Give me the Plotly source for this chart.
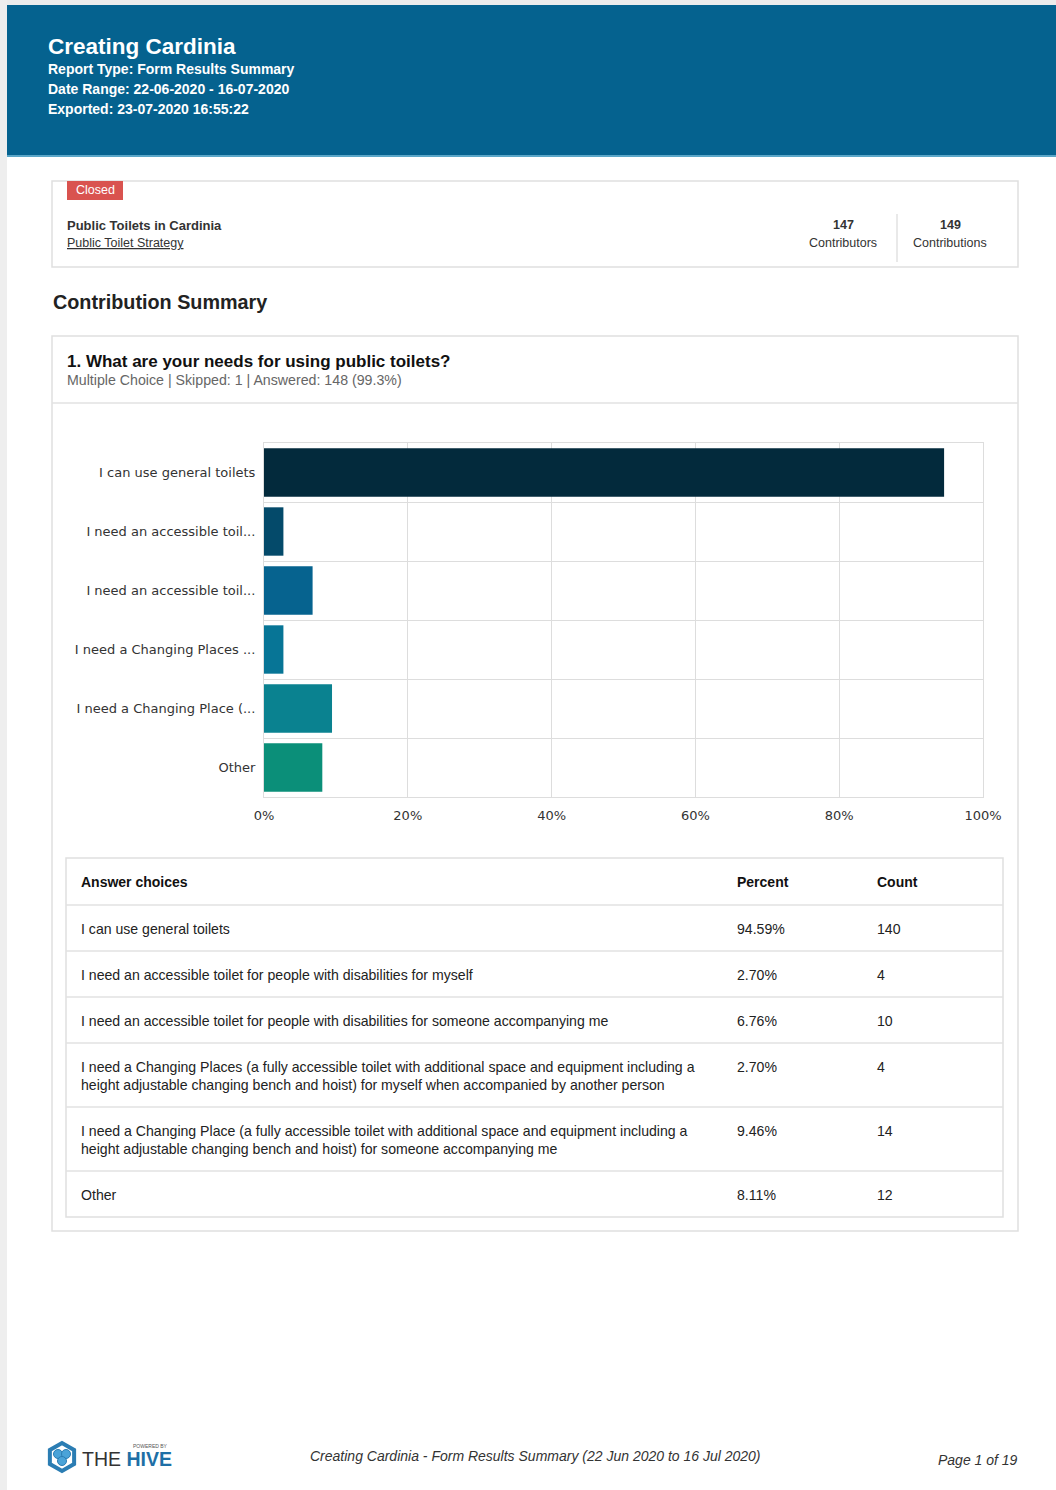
import math
import textwrap
import plotly.graph_objects as go

W, H = 1056, 1490

# ---------------- data ----------------
answers = [
    "I can use general toilets",
    "I need an accessible toilet for people with disabilities for myself",
    "I need an accessible toilet for people with disabilities for someone accompanying me",
    "I need a Changing Places (a fully accessible toilet with additional space and equipment including a height adjustable changing bench and hoist) for myself when accompanied by another person",
    "I need a Changing Place (a fully accessible toilet with additional space and equipment including a height adjustable changing bench and hoist) for someone accompanying me",
    "Other",
]
short_labels = [
    "I can use general toilets",
    "I need an accessible toil...",
    "I need an accessible toil...",
    "I need a Changing Places ...",
    "I need a Changing Place (...",
    "Other",
]
percents = [94.59, 2.70, 6.76, 2.70, 9.46, 8.11]
counts = [140, 4, 10, 4, 14, 12]
bar_colors = ["#032a3c", "#044a6a", "#06638f", "#077596", "#0a8290", "#0b8f79"]
x_ticks = [0, 20, 40, 60, 80, 100]
x_tick_labels = ["0%", "20%", "40%", "60%", "80%", "100%"]

header_lines = [
    "Report Type: Form Results Summary",
    "Date Range: 22-06-2020 - 16-07-2020",
    "Exported: 23-07-2020 16:55:22",
]


def X(px):
    return px / W


def Y(py):
    return 1 - py / H


ARIAL = "Liberation Sans, Arial, sans-serif"
CHART_FONT = "DejaVu Sans, Verdana, sans-serif"

fig = go.Figure()
fig.add_trace(go.Bar(
    x=percents,
    y=answers,
    orientation="h",
    marker=dict(color=bar_colors, line=dict(width=0)),
    hoverinfo="skip",
    showlegend=False,
))

shapes = []
annotations = []


def rect(x0, y0, x1, y1, fill="rgba(0,0,0,0)", line="rgba(0,0,0,0)", lw=0, layer="below"):
    shapes.append(dict(type="rect", xref="paper", yref="paper",
                       x0=X(x0), x1=X(x1), y0=Y(y0), y1=Y(y1),
                       fillcolor=fill, line=dict(color=line, width=lw), layer=layer))


def hline(x0, x1, y, color="#e2e2e2", lw=1.5):
    shapes.append(dict(type="line", xref="paper", yref="paper",
                       x0=X(x0), x1=X(x1), y0=Y(y), y1=Y(y),
                       line=dict(color=color, width=lw), layer="below"))


def vline(x, y0, y1, color="#e2e2e2", lw=1.5):
    shapes.append(dict(type="line", xref="paper", yref="paper",
                       x0=X(x), x1=X(x), y0=Y(y0), y1=Y(y1),
                       line=dict(color=color, width=lw), layer="below"))


def text(x, y, s, size=13, color="#333333", anchor="left", yanchor="middle", family=ARIAL):
    # compensate for the small internal padding of annotations
    if anchor == "left":
        x -= 2
    elif anchor == "right":
        x += 2
    annotations.append(dict(x=X(x), y=Y(y), xref="paper", yref="paper", text=s,
                            showarrow=False, xanchor=anchor, yanchor=yanchor,
                            align=anchor if anchor != "center" else "center",
                            font=dict(size=size, color=color, family=family)))


# page edges
rect(0, 0, W, 5, fill="#ececec")
rect(0, 0, 7, H, fill="#eeeeee")

# header band
rect(7, 5, W, 155, fill="#05628f")
rect(7, 155, W, 157, fill="#5aa6c8")
text(48, 46, "<b>Creating Cardinia</b>", size=22.5, color="white")
for i, s in enumerate(header_lines):
    text(48, 69 + 20 * i, "<b>" + s + "</b>", size=14, color="white")

# project card
rect(52, 181, 1018, 267, fill="white", line="#e0e0e0", lw=1.5)
rect(67, 181, 123, 200, fill="#d9534f")
text(95, 190.5, "Closed", size=12.5, color="white", anchor="center")
text(67, 225, "<b>Public Toilets in Cardinia</b>", size=13)
text(67, 243, "<u>Public Toilet Strategy</u>", size=12.5)
text(843, 225, "<b>147</b>", size=12.5, anchor="center")
text(843, 243, "Contributors", size=12.5, anchor="center")
vline(897, 214, 262)
text(950, 225, "<b>149</b>", size=12.5, anchor="center")
text(950, 243, "Contributions", size=12.5, anchor="center")

text(53, 302, "<b>Contribution Summary</b>", size=19.8, color="#222222")

# question card
rect(52, 336, 1018, 1231, fill="white", line="#e0e0e0", lw=1.5)
hline(52, 1018, 403)
text(67, 362, "<b>1. What are your needs for using public toilets?</b>", size=17, color="#111111")
text(67, 380, "Multiple Choice | Skipped: 1 | Answered: 148 (99.3%)", size=14.2, color="#666666")

# table
tbl_left, tbl_right = 66, 1003
col_pct, col_cnt = 737, 877
top = 858
rect(tbl_left, top, tbl_right, 1217, fill="rgba(0,0,0,0)", line="#e0e0e0", lw=1.5)
text(81, top + 24, "<b>Answer choices</b>", size=14, color="#111111")
text(col_pct, top + 24, "<b>Percent</b>", size=14, color="#111111")
text(col_cnt, top + 24, "<b>Count</b>", size=14, color="#111111")
top = 905
for ans, p, c in zip(answers, percents, counts):
    hline(tbl_left, tbl_right, top)
    lines = textwrap.wrap(ans, width=100)
    h = 46 if len(lines) == 1 else 64
    text(81, top + 14, "<br>".join(lines), size=14.1, color="#222222", yanchor="top")
    text(col_pct, top + 14, f"{p:.2f}%", size=14.1, color="#222222", yanchor="top")
    text(col_cnt, top + 14, str(c), size=14.1, color="#222222", yanchor="top")
    top += h

# footer logo: hexagon icon
cx, cy, r = 62, 1457, 14
pts = []
for k in range(6):
    a = math.radians(60 * k + 30)
    pts.append((X(cx + r * math.cos(a)), Y(cy + r * math.sin(a))))
path = "M " + " L ".join(f"{px:.5f},{py:.5f}" for px, py in pts) + " Z"
shapes.append(dict(type="path", xref="paper", yref="paper", path=path,
                   fillcolor="white", line=dict(color="#2b7db3", width=4), layer="above"))
for dx, dy, rr in [(-4, -3, 4.5), (4, -3, 4.5), (0, 4, 4.5)]:
    shapes.append(dict(type="circle", xref="paper", yref="paper",
                       x0=X(cx + dx - rr), x1=X(cx + dx + rr), y0=Y(cy + dy - rr), y1=Y(cy + dy + rr),
                       fillcolor="#4aa3d8", line=dict(color="#2b7db3", width=1), layer="above"))
text(82, 1459, "THE <b><span style='color:#1e6fa6'>HIVE</span></b>", size=19.5, color="#333333")
text(168, 1446, "POWERED BY", size=5, color="#555555", anchor="right")
text(535, 1456, "<i>Creating Cardinia - Form Results Summary (22 Jun 2020 to 16 Jul 2020)</i>",
     size=14, color="#333333", anchor="center")
text(1018, 1460, "<i>Page 1 of 19</i>", size=14, color="#333333", anchor="right")

fig.update_layout(
    width=W, height=H,
    autosize=False,
    margin=dict(l=0, r=0, t=0, b=0, pad=0, autoexpand=False),
    paper_bgcolor="white",
    plot_bgcolor="white",
    bargap=0.18,
    shapes=shapes,
    annotations=annotations,
    xaxis=dict(
        domain=[X(264), X(983)],
        range=[0, 100],
        tickvals=x_ticks,
        ticktext=x_tick_labels,
        automargin=False,
        showgrid=True, gridcolor="#dddddd", gridwidth=1,
        zeroline=False,
        showline=True, mirror=True, linecolor="#dddddd", linewidth=1,
        ticks="", ticklabelstandoff=6,
        tickfont=dict(family=CHART_FONT, size=13, color="#333333"),
        fixedrange=True,
    ),
    yaxis=dict(
        domain=[Y(797), Y(443)],
        range=[5.5, -0.5],
        tickvals=answers,
        ticktext=short_labels,
        tickson="boundaries",
        automargin=False,
        showgrid=True, gridcolor="#dddddd", gridwidth=1,
        showline=True, mirror=True, linecolor="#dddddd", linewidth=1,
        ticks="", ticklabelstandoff=5,
        tickfont=dict(family=CHART_FONT, size=13, color="#333333"),
        fixedrange=True,
    ),
)

fig.write_html(
    "out.html",
    config={"displayModeBar": False},
    post_script="document.body.style.margin='0';document.body.style.overflow='hidden';",
)
